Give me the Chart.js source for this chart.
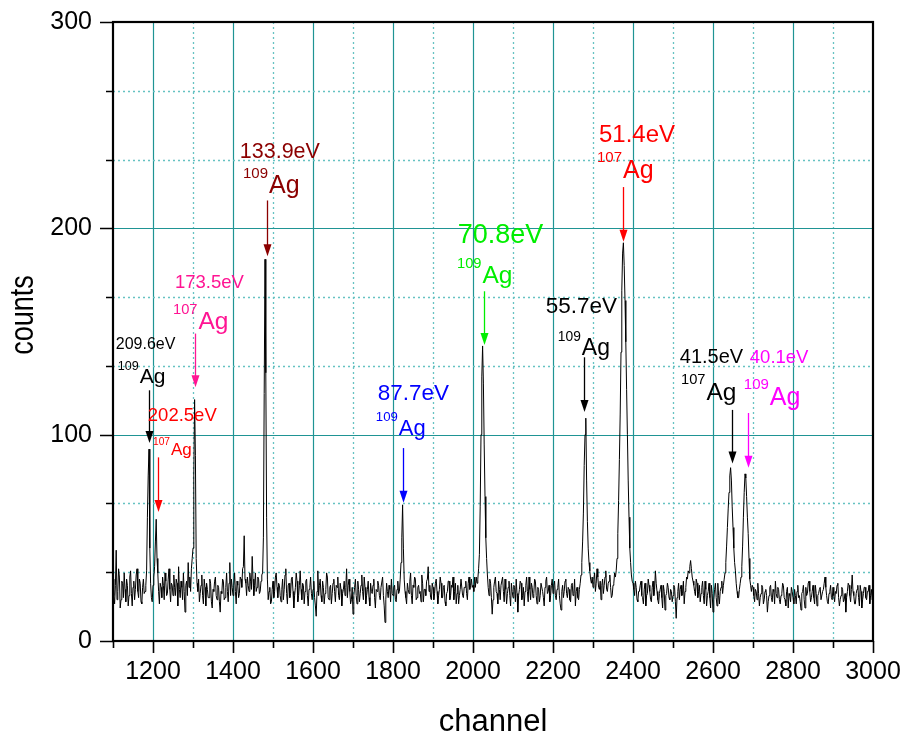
<!DOCTYPE html>
<html>
<head>
<meta charset="utf-8">
<title>Ag spectrum</title>
<script src="https://cdn.jsdelivr.net/npm/chart.js@4.4.1/dist/chart.umd.min.js"></script>
<style>
  html, body { margin: 0; padding: 0; background: #fff; }
  #chart { display: block; }
</style>
</head>
<body>
<canvas id="chart" width="906" height="735"></canvas>
<script>
// Spectrum data: one count every 2 channels, starting at channel 1100
const channelStart = 1100;
const channelStep = 2;
const counts = [
  30, 22, 18, 27, 44, 20, 24, 35, 31, 16, 20, 29, 28, 21, 33, 25, 19, 30, 27, 17, 22, 31, 34, 23, 17, 26, 29, 20, 25, 32, 35, 24, 21, 30, 28, 19, 18, 26, 30, 23, 24, 27, 34, 60, 80, 93, 45, 28, 21, 19,
  27, 31, 36, 48, 59, 40, 33, 24, 18, 28, 26, 21, 31, 27, 20, 33, 29, 22, 23, 30, 35, 25, 19, 28, 27, 22, 32, 26, 22, 30, 28, 17, 36, 25, 21, 29, 26, 20, 33, 24, 14, 27, 29, 22, 38, 26, 31, 24, 35, 40,
  45, 80, 117, 90, 40, 28, 24, 30, 19, 23, 27, 32, 22, 18, 30, 26, 17, 28, 25, 21, 21, 30, 28, 19, 16, 25, 24, 29, 31, 22, 20, 27, 26, 19, 14, 24, 23, 30, 29, 20, 21, 26, 33, 24, 19, 28, 38, 22, 30, 26,
  22, 27, 33, 24, 18, 29, 27, 21, 23, 31, 30, 26, 35, 36, 51, 30, 28, 22, 31, 27, 24, 33, 29, 25, 41, 30, 22, 27, 33, 24, 26, 31, 30, 23, 24, 29, 32, 33, 50, 120, 185, 130, 60, 30, 20, 24, 26, 18, 19, 25,
  29, 21, 24, 31, 33, 26, 21, 28, 27, 22, 19, 25, 30, 20, 25, 32, 35, 23, 18, 27, 28, 21, 23, 30, 31, 24, 16, 22, 26, 33, 29, 19, 22, 27, 34, 25, 20, 28, 27, 18, 24, 29, 30, 22, 17, 25, 26, 31, 23, 20,
  25, 29, 21, 17, 12, 24, 34, 22, 27, 30, 22, 19, 29, 26, 18, 23, 25, 33, 31, 21, 20, 26, 27, 18, 23, 28, 30, 24, 19, 27, 26, 31, 22, 20, 28, 25, 17, 23, 25, 29, 22, 26, 35, 21, 27, 30, 24, 18, 20, 26,
  13, 22, 26, 30, 22, 18, 29, 25, 19, 23, 27, 32, 24, 20, 31, 26, 18, 22, 25, 29, 21, 17, 28, 24, 23, 27, 30, 21, 16, 25, 24, 29, 27, 22, 20, 26, 26, 31, 22, 17, 9, 20, 28, 24, 21, 27, 25, 19, 30, 23,
  22, 26, 27, 20, 19, 25, 29, 23, 24, 30, 38, 50, 66, 45, 30, 24, 21, 18, 28, 25, 23, 29, 33, 22, 18, 27, 26, 31, 30, 20, 21, 26, 27, 23, 24, 19, 32, 28, 19, 25, 25, 22, 29, 30, 36, 24, 27, 21, 20, 28,
  26, 20, 23, 28, 30, 24, 18, 22, 25, 31, 28, 21, 21, 26, 27, 19, 17, 23, 24, 29, 29, 20, 22, 27, 26, 31, 20, 24, 28, 18, 23, 27, 18, 22, 25, 30, 30, 22, 21, 26, 26, 29, 23, 20, 28, 31, 25, 27, 30, 26,
  27, 24, 31, 26, 31, 28, 30, 35, 42, 65, 100, 128, 143, 125, 95, 70, 50, 40, 32, 26, 22, 30, 28, 21, 13, 20, 26, 29, 31, 24, 23, 18, 29, 25, 20, 27, 27, 31, 24, 19, 30, 25, 18, 23, 26, 29, 22, 17, 28, 24,
  21, 27, 26, 19, 30, 23, 14, 22, 25, 29, 28, 20, 22, 26, 17, 24, 27, 31, 24, 19, 31, 25, 20, 28, 26, 21, 23, 30, 29, 22, 18, 26, 25, 19, 22, 28, 28, 24, 21, 17, 26, 29, 31, 23, 24, 27, 19, 22, 27, 30,
  23, 27, 29, 22, 20, 25, 26, 30, 22, 18, 15, 24, 27, 21, 24, 29, 30, 23, 21, 26, 25, 20, 19, 27, 28, 22, 23, 30, 17, 24, 26, 21, 20, 25, 28, 32, 38, 48, 62, 85, 100, 108, 78, 58, 45, 38, 34, 30, 28, 31,
  26, 30, 33, 24, 28, 35, 31, 26, 25, 29, 20, 27, 30, 23, 27, 31, 34, 25, 24, 28, 29, 32, 26, 21, 22, 27, 28, 33, 31, 34, 40, 52, 68, 88, 110, 140, 170, 188, 193, 182, 165, 145, 122, 100, 78, 60, 45, 38, 32, 29,
  28, 25, 22, 29, 26, 20, 19, 24, 24, 27, 29, 22, 21, 18, 25, 28, 17, 22, 23, 30, 27, 24, 20, 19, 26, 29, 22, 25, 34, 28, 24, 20, 18, 23, 25, 27, 21, 16, 27, 24, 15, 22, 23, 28, 26, 21, 20, 25, 24, 19,
  22, 27, 26, 19, 11, 21, 24, 28, 20, 25, 27, 22, 23, 29, 18, 24, 26, 31, 30, 34, 33, 36, 39, 35, 31, 29, 27, 24, 22, 30, 28, 21, 24, 27, 19, 23, 26, 29, 22, 18, 29, 25, 17, 22, 24, 28, 21, 16, 27, 23,
  14, 20, 25, 28, 21, 17, 28, 22, 18, 24, 26, 29, 23, 27, 30, 33, 38, 46, 55, 64, 72, 80, 84, 78, 65, 55, 45, 38, 34, 28, 24, 21, 21, 25, 28, 31, 36, 46, 60, 72, 81, 79, 70, 60, 52, 40, 30, 27, 24, 27,
  26, 22, 19, 25, 24, 20, 28, 23, 17, 21, 23, 27, 26, 18, 20, 24, 25, 22, 14, 19, 22, 26, 27, 21, 19, 25, 24, 18, 29, 23, 21, 26, 25, 20, 18, 22, 23, 28, 27, 21, 20, 17, 24, 26, 16, 23, 22, 19, 26, 24,
  21, 18, 25, 22, 18, 24, 27, 21, 22, 19, 15, 23, 24, 27, 20, 16, 26, 22, 23, 28, 29, 24, 19, 21, 24, 27, 21, 18, 27, 23, 17, 22, 23, 25, 26, 20, 20, 24, 25, 28, 31, 26, 22, 19, 18, 23, 24, 27, 21, 20,
  26, 22, 19, 24, 23, 27, 28, 21, 17, 20, 22, 26, 25, 19, 20, 23, 14, 21, 24, 28, 27, 22, 19, 25, 32, 24, 22, 18, 18, 23, 25, 27, 21, 17, 27, 24, 16, 20, 23, 26, 26, 21, 20, 24, 24, 27, 18, 22, 25, 20, 22
];

// Axis ranges and tick steps
const xMin = 1100, xMax = 3000, xMinorStep = 100, xMajorStep = 200;
const yMin = 0, yMax = 300, yMajorStep = 100, yMinorPerMajor = 3;
const xTitle = 'channel';
const yTitle = 'counts';

// Peak labels
const peakEnergies = ['209.6eV', '202.5eV', '173.5eV', '133.9eV', '87.7eV', '70.8eV', '51.4eV', '55.7eV', '41.5eV', '40.1eV'];
const peakIsotopes = ['109', '107', '107', '109', '109', '109', '107', '109', '107', '109'];
const peakChannels = [1190, 1212, 1305, 1485, 1825, 2027, 2375, 2277, 2647, 2687];

// Label layout (data coordinates) and colours
const labelStyles = [
  { color: '#000000', eX: 1107, eY: 141.5, eSize: 16,   isoX: 1112, agY: 125,   agSize: 21,   top: 121.5, tip: 96 },
  { color: '#ff0000', eX: 1187, eY: 106.5, eSize: 18.5, isoX: 1200, agY: 90,    agSize: 17,   top: 89,    tip: 62.5 },
  { color: '#ff1493', eX: 1255, eY: 171,   eSize: 18.5, isoX: 1250, agY: 151,   agSize: 24.5, top: 149,   tip: 123 },
  { color: '#8b0000', eX: 1417, eY: 234,   eSize: 21.5, isoX: 1425, agY: 217,   agSize: 25,   top: 213.5, tip: 186.5 },
  { color: '#0000ff', eX: 1762, eY: 117,   eSize: 22.5, isoX: 1757, agY: 100,   agSize: 22,   top: 93.5,  tip: 67 },
  { color: '#00ee00', eX: 1962, eY: 193,   eSize: 27,   isoX: 1960, agY: 173.5, agSize: 24.5, top: 169.5, tip: 143.5 },
  { color: '#ff0000', eX: 2315, eY: 242,   eSize: 24,   isoX: 2310, agY: 224.5, agSize: 25,   top: 220,   tip: 193.5 },
  { color: '#000000', eX: 2182, eY: 159,   eSize: 22.5, isoX: 2212, agY: 138.5, agSize: 23,   top: 137.5, tip: 111 },
  { color: '#000000', eX: 2517, eY: 134.7, eSize: 20,   isoX: 2520, agY: 117,   agSize: 24.5, top: 112,   tip: 86 },
  { color: '#ff00ff', eX: 2692, eY: 134.7, eSize: 18.5, isoX: 2677, agY: 114.5, agSize: 25,   top: 110.5, tip: 84 }
];

const fontFamily = '"Liberation Sans", Arial, sans-serif';
Chart.defaults.font.family = fontFamily;
Chart.defaults.color = '#000';

const points = counts.map((c, i) => ({ x: channelStart + i * channelStep, y: c }));

// Grid, frame, ticks and peak labels drawn Origin style
const originPlugin = {
  id: 'originStyle',
  beforeDatasetsDraw(chart) {
    const { ctx, chartArea: a, scales: { x, y } } = chart;
    ctx.save();
    // vertical grid
    for (let v = xMin + xMinorStep; v < xMax; v += xMinorStep) {
      const px = Math.round(x.getPixelForValue(v)) + 0.5;
      const major = v % xMajorStep === 0;
      ctx.strokeStyle = major ? '#1f9494' : '#66c2c2';
      ctx.setLineDash(major ? [] : [2, 3]);
      ctx.lineWidth = major ? 1.2 : 1.3;
      ctx.beginPath(); ctx.moveTo(px, a.top); ctx.lineTo(px, a.bottom); ctx.stroke();
    }
    // horizontal grid
    for (let k = 1; k < (yMax - yMin) / yMajorStep * yMinorPerMajor; k++) {
      const v = yMin + k * yMajorStep / yMinorPerMajor;
      const py = Math.round(y.getPixelForValue(v)) + 0.5;
      const major = k % yMinorPerMajor === 0;
      ctx.strokeStyle = major ? '#1f9494' : '#66c2c2';
      ctx.setLineDash(major ? [] : [2, 3]);
      ctx.lineWidth = major ? 1.2 : 1.3;
      ctx.beginPath(); ctx.moveTo(a.left, py); ctx.lineTo(a.right, py); ctx.stroke();
    }
    ctx.restore();
  },
  afterDatasetsDraw(chart) {
    const { ctx, chartArea: a, scales: { x, y } } = chart;
    ctx.save();

    // peak labels with arrows
    ctx.textBaseline = 'alphabetic';
    ctx.textAlign = 'left';
    labelStyles.forEach((s, i) => {
      ctx.fillStyle = s.color;
      ctx.strokeStyle = s.color;
      ctx.font = s.eSize + 'px ' + fontFamily;
      ctx.fillText(peakEnergies[i], x.getPixelForValue(s.eX), y.getPixelForValue(s.eY));

      const supSize = s.agSize * 0.6;
      const isoPx = x.getPixelForValue(s.isoX);
      const agPy = y.getPixelForValue(s.agY);
      ctx.font = supSize + 'px ' + fontFamily;
      ctx.fillText(peakIsotopes[i], isoPx, agPy - s.agSize * 0.62);
      const supW = ctx.measureText(peakIsotopes[i]).width;
      ctx.font = s.agSize + 'px ' + fontFamily;
      ctx.fillText('Ag', isoPx + supW + 1, agPy);

      const ax = Math.round(x.getPixelForValue(peakChannels[i])) + 0.5;
      const y1 = y.getPixelForValue(s.top);
      const y2 = y.getPixelForValue(s.tip);
      const head = 12, half = 4;
      ctx.lineWidth = 1.3;
      ctx.beginPath(); ctx.moveTo(ax, y1); ctx.lineTo(ax, y2 - head + 1); ctx.stroke();
      ctx.beginPath();
      ctx.moveTo(ax - half, y2 - head);
      ctx.lineTo(ax + half, y2 - head);
      ctx.lineTo(ax, y2);
      ctx.closePath();
      ctx.fill();
    });

    // frame
    ctx.strokeStyle = '#000';
    ctx.lineWidth = 2.2;
    ctx.strokeRect(a.left, a.top, a.right - a.left, a.bottom - a.top);

    // tick marks (outside)
    ctx.lineWidth = 1.6;
    ctx.beginPath();
    for (let v = xMin; v <= xMax; v += xMinorStep) {
      const px = Math.round(x.getPixelForValue(v)) + 0.5;
      const len = v % xMajorStep === 0 ? 12 : 7;
      ctx.moveTo(px, a.bottom); ctx.lineTo(px, a.bottom + len);
    }
    for (let k = 0; k <= (yMax - yMin) / yMajorStep * yMinorPerMajor; k++) {
      const v = yMin + k * yMajorStep / yMinorPerMajor;
      const py = Math.round(y.getPixelForValue(v)) + 0.5;
      const len = k % yMinorPerMajor === 0 ? 13 : 7;
      ctx.moveTo(a.left, py); ctx.lineTo(a.left - len, py);
    }
    ctx.stroke();

    // y axis title (condensed, as in the original)
    ctx.fillStyle = '#000';
    ctx.translate(33, 315);
    ctx.rotate(-Math.PI / 2);
    ctx.scale(0.82, 1);
    ctx.font = '33px ' + fontFamily;
    ctx.textAlign = 'center';
    ctx.textBaseline = 'alphabetic';
    ctx.fillText(yTitle, 0, 0);
    ctx.restore();
  }
};

const ctx = document.getElementById('chart').getContext('2d');
new Chart(ctx, {
  type: 'line',
  data: {
    datasets: [{
      data: points,
      borderColor: '#000',
      borderWidth: 1,
      pointRadius: 0,
      tension: 0,
      fill: false
    }]
  },
  options: {
    responsive: false,
    animation: false,
    devicePixelRatio: 1,
    layout: { padding: { left: 0, right: 33, top: 22, bottom: 0 } },
    plugins: {
      legend: { display: false },
      tooltip: { enabled: false }
    },
    scales: {
      x: {
        type: 'linear',
        min: xMin,
        max: xMax,
        afterFit: (s) => { s.height = 94; s.paddingLeft = 0; s.paddingRight = 0; },
        grid: { display: false, drawTicks: false },
        border: { display: false },
        ticks: {
          stepSize: xMinorStep,
          autoSkip: false,
          maxRotation: 0,
          padding: 16,
          color: '#000',
          font: { size: 25 },
          callback: (v) => (v % xMajorStep === 0 ? String(v) : '')
        },
        title: {
          display: true,
          text: xTitle,
          color: '#000',
          font: { size: 31 },
          padding: { top: 0, bottom: -6 }
        }
      },
      y: {
        min: yMin,
        max: yMax,
        afterFit: (s) => { s.width = 113; s.paddingTop = 0; s.paddingBottom = 0; },
        grid: { display: false, drawTicks: false },
        border: { display: false },
        ticks: {
          stepSize: yMajorStep,
          padding: 21,
          color: '#000',
          font: { size: 25 },
          callback: (v) => String(v)
        },
        title: { display: false }
      }
    }
  },
  plugins: [originPlugin]
});
</script>
</body>
</html>
